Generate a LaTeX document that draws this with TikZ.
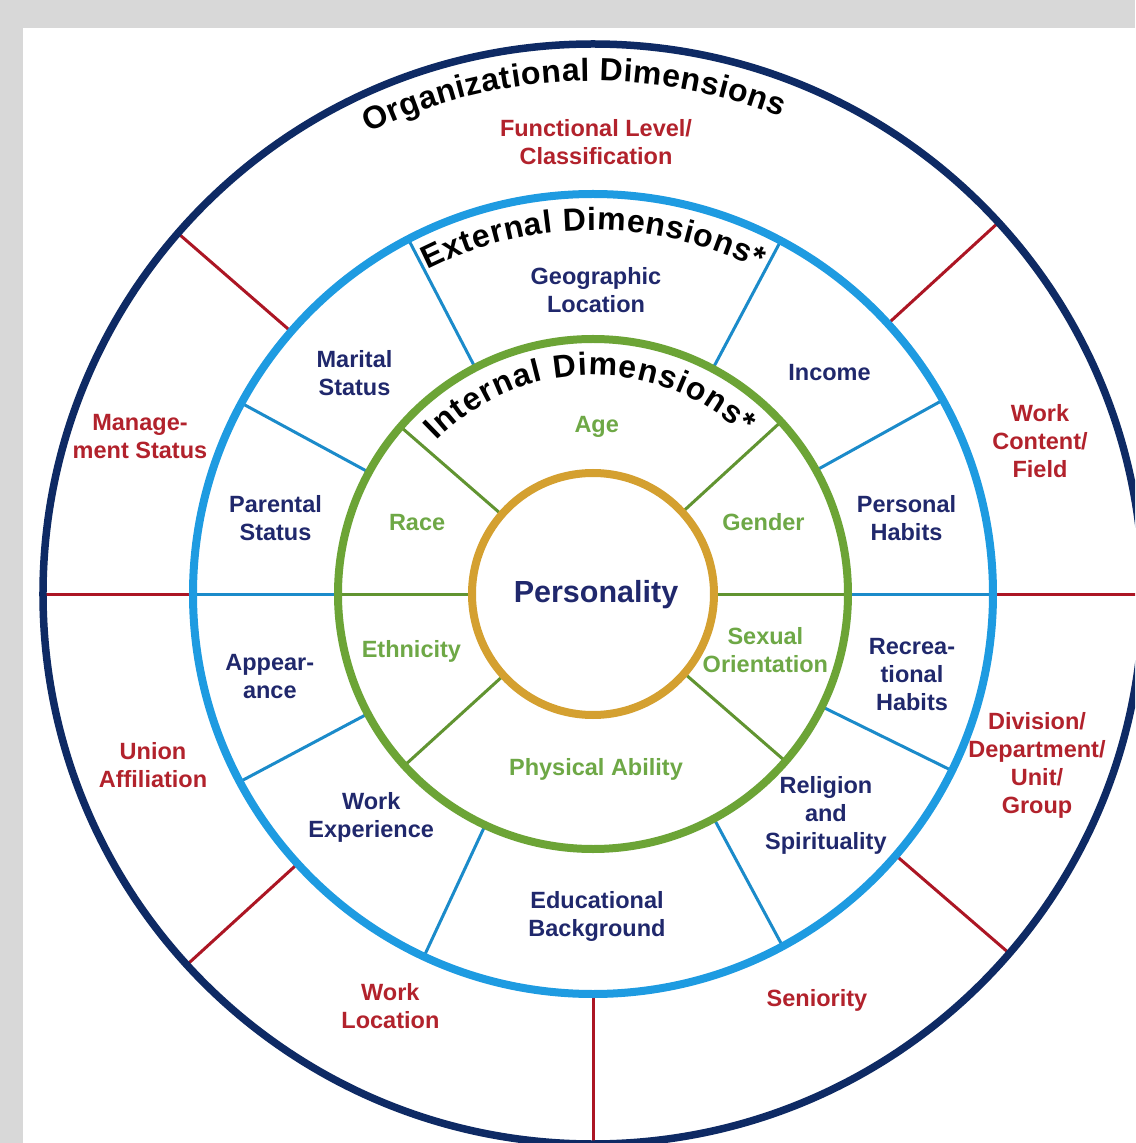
\documentclass[tikz,border=0pt]{standalone}
\usepackage{fontspec}
\setmainfont{Liberation Sans}
\usepackage{tikz}
\usetikzlibrary{decorations.text}

\definecolor{bggray}{RGB}{216,216,216}
\definecolor{navyring}{RGB}{14,42,100}
\definecolor{skyring}{RGB}{30,155,225}
\definecolor{greenring}{RGB}{108,164,54}
\definecolor{goldring}{RGB}{212,160,48}
\definecolor{orgred}{RGB}{172,22,36}
\definecolor{orgtext}{RGB}{178,34,44}
\definecolor{exttext}{RGB}{32,40,108}
\definecolor{inttext}{RGB}{110,168,70}

\newcommand{\dimtitle}{\bfseries\fontsize{32}{32}\selectfont}

\begin{document}
\begin{tikzpicture}[x=1pt, y=1pt,
    orgline/.style={orgred, line width=3pt},
    extline/.style={skyring!90!black, line width=3pt},
    intline/.style={greenring!90!black, line width=3pt},
    ringlabel/.style={font=\bfseries\fontsize{23.5}{28}\selectfont, align=center, inner sep=0pt},
    orglabel/.style={ringlabel, text=orgtext},
    extlabel/.style={ringlabel, text=exttext},
    intlabel/.style={ringlabel, text=inttext}]
 \coordinate (origo) at (0,0);

    % draw background
    \useasboundingbox (-593,-549) rectangle (542,594);
    \fill[bggray] (-593,-549) rectangle (542,594);
    \fill[white] (-570,-549) rectangle (542,566);
    \clip (-593,-549) rectangle (542,594);

    % draw dividers
    \foreach \a in {0,42.5,139,180,222.4,270,319.2}
        \draw[orgline] (\a:400) -- (\a:550);
    \foreach \a in {0,29,62,117.5,151.5,180,208,245,298.3,333.8}
        \draw[extline] (\a:255) -- (\a:400);
    \foreach \a in {0,42.5,139,180,222.3,319}
        \draw[intline] (\a:121) -- (\a:255);

    % draw rings
    \draw[navyring, line width=7.5pt] (origo) circle[radius=550pt];
    \draw[skyring, line width=8pt] (origo) circle[radius=400pt];
    \draw[greenring, line width=8pt] (origo) circle[radius=255pt];
    \draw[goldring, line width=8pt] (origo) circle[radius=121pt];

    % ring titles
    \path[decorate, decoration={text along path, text align={fit to path},
        text={|\dimtitle|Organizational Dimensions}}]
        (116:513) arc[start angle=116, end angle=68.5, radius=513pt];
    \path[decorate, decoration={text along path, text align={fit to path},
        text={|\dimtitle|External Dimensions*}}]
        (117:364) arc[start angle=117, end angle=63, radius=364pt];
    \path[decorate, decoration={text along path, text align={fit to path},
        text={|\dimtitle|Internal Dimensions*}}]
        (135.5:219) arc[start angle=135.5, end angle=46.5, radius=219pt];

    % organizational dimensions
    \node[orglabel] (funclevel) at (3,452) {Functional Level/\\Classification};
    \node[orglabel] (mgmt) at (-453,157) {Manage-\\ment Status};
    \node[orglabel] (workcontent) at (447,153) {Work\\Content/\\Field};
    \node[orglabel] (union) at (-440,-171.5) {Union\\Affiliation};
    \node[orglabel] (division) at (444,-171.5) {Division/\\Department/\\Unit/\\Group};
    \node[orglabel] (worklocation) at (-202.6,-412) {Work\\Location};
    \node[orglabel] (seniority) at (224,-406.7) {Seniority};

    % external dimensions
    \node[extlabel] (geographic) at (3,304) {Geographic\\Location};
    \node[extlabel] (marital) at (-238.5,220.5) {Marital\\Status};
    \node[extlabel] (income) at (236.5,221) {Income};
    \node[extlabel] (parental) at (-317.5,76.3) {Parental\\Status};
    \node[extlabel] (personal) at (313.5,75.5) {Personal\\Habits};
    \node[extlabel] (appearance) at (-323.2,-82.8) {Appear-\\ance};
    \node[extlabel] (recreational) at (319,-80.9) {Recrea-\\tional\\Habits};
    \node[extlabel] (workexp) at (-221.8,-223.5) {Work\\Experience};
    \node[extlabel] (religion) at (232.9,-221) {Religion\\and\\Spirituality};
    \node[extlabel] (educational) at (4,-322) {Educational\\Background};

    % internal dimensions
    \node[intlabel] (age) at (3.7,167.3) {Age};
    \node[intlabel] (race) at (-175.9,71.6) {Race};
    \node[intlabel] (gender) at (170.5,71.6) {Gender};
    \node[intlabel] (ethnicity) at (-181.6,-57) {Ethnicity};
    \node[intlabel] (sexual) at (172.4,-56) {Sexual\\Orientation};
    \node[intlabel] (physical) at (3,-175) {Physical Ability};

    % core
    \node[extlabel, font=\bfseries\fontsize{30.5}{30.5}\selectfont] (personality) at (3,-1) {Personality};
\end{tikzpicture}
\end{document}
